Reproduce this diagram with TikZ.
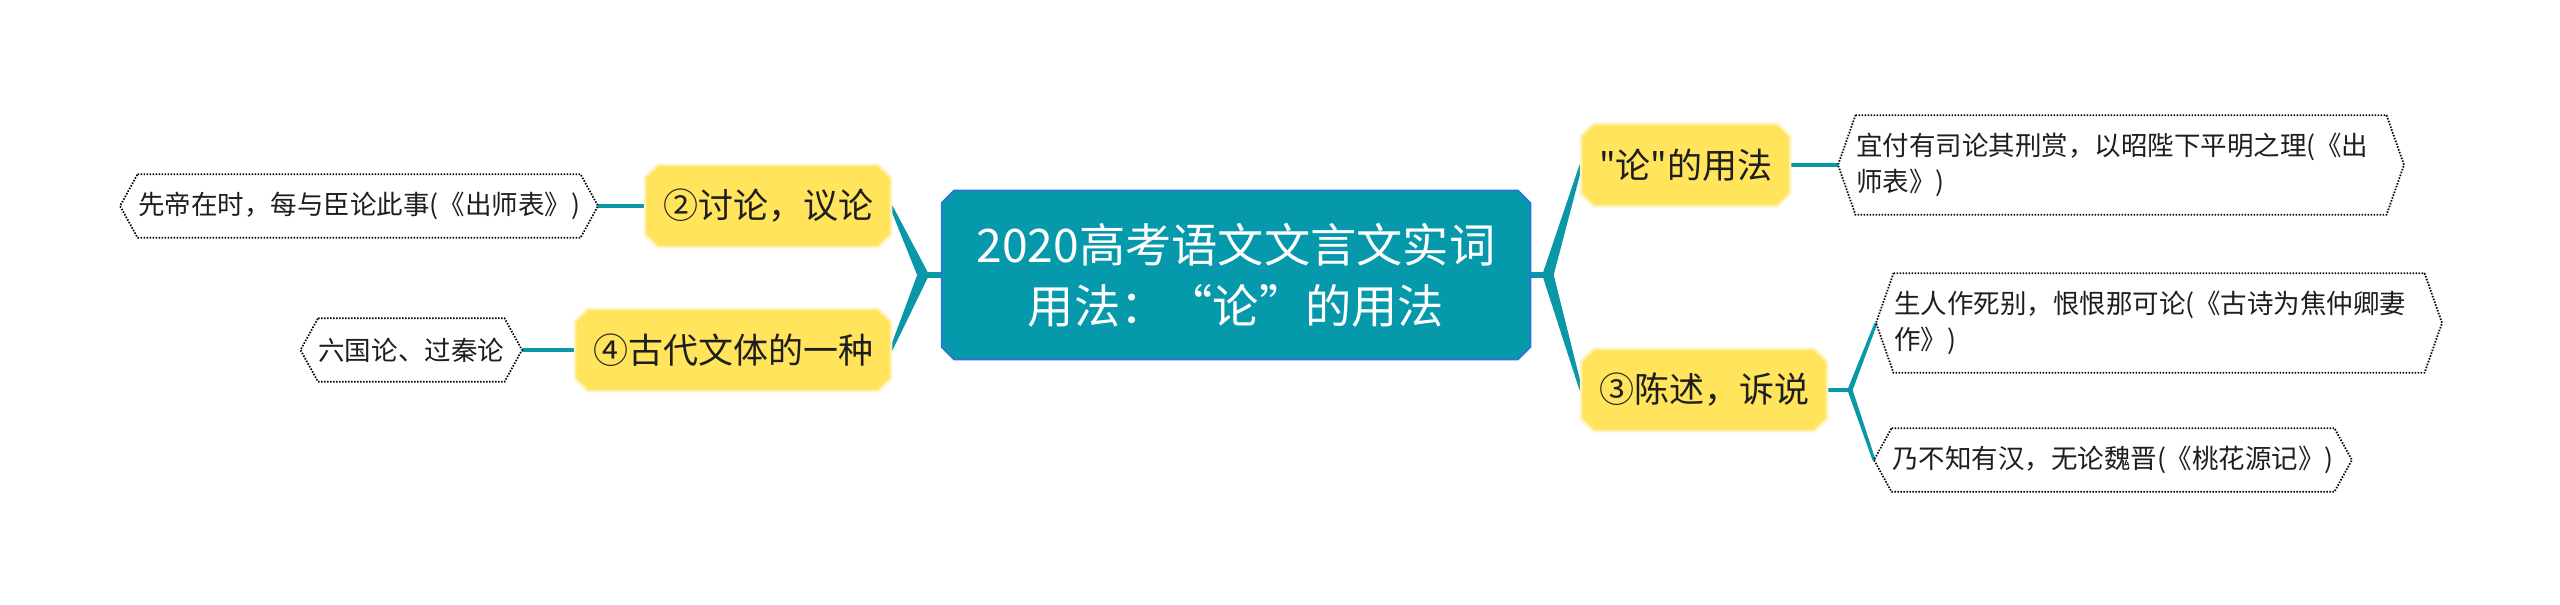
\documentclass[tikz,border=0pt]{standalone}
\usepackage{fontspec}
\setmainfont{Noto Sans CJK SC}[Ligatures=TeXOff]
\usetikzlibrary{calc,backgrounds}
\definecolor{teal1}{RGB}{10,152,168}
\definecolor{corefillc}{RGB}{5,153,171}
\definecolor{coreblue}{RGB}{45,110,225}
\definecolor{yel}{RGB}{255,228,92}
\definecolor{yelb}{RGB}{255,242,185}
\definecolor{ink}{RGB}{30,30,30}
\newcommand{\chamf}[3]{%
  \draw[#3] ([xshift=#2]#1.north west) -- ([xshift=-#2]#1.north east) -- ([yshift=-#2]#1.north east)
   -- ([yshift=#2]#1.south east) -- ([xshift=-#2]#1.south east) -- ([xshift=#2]#1.south west)
   -- ([yshift=#2]#1.south west) -- ([yshift=-#2]#1.north west) -- cycle;}
\newcommand{\hexa}[2]{%
  \draw[leafline] ([xshift=#2]#1.north west) -- ([xshift=-#2]#1.north east) -- (#1.east)
   -- ([xshift=-#2]#1.south east) -- ([xshift=#2]#1.south west) -- (#1.west) -- cycle;}
\newcommand{\taper}[4]{%
  \fill[teal1] ($(#1)!#3!90:(#2)$) -- ($(#2)!#4!-90:(#1)$) -- ($(#2)!#4!90:(#1)$) -- ($(#1)!#3!-90:(#2)$) -- cycle;}
\tikzset{
  core/.style={text=white, font=\fontsize{18.5}{24.4}\selectfont, align=center,
    minimum width=235.2pt, minimum height=67.2pt, inner sep=0pt},
  topic/.style={text=ink, font=\fontsize{14}{16}\selectfont, inner xsep=7pt, inner ysep=0pt,
    minimum height=32.5pt},
  leaf/.style={text=ink, font=\fontsize{10.6}{14.4}\selectfont, inner xsep=7pt, inner ysep=7pt,
    minimum height=25pt, align=left},
  leafline/.style={draw=black, dash pattern=on 0.6pt off 0.6pt, line width=0.7pt},
  corefill/.style={fill=corefillc, draw=coreblue, line width=0.6pt},
  topicfill/.style={fill=yel, draw=yelb, line width=1pt},
  stub/.style={draw=teal1, line width=2.6pt},
  link/.style={draw=teal1, line width=1.6pt},
}
\begin{document}
\begin{tikzpicture}[x=0.4pt,y=-0.4pt]
\useasboundingbox (0,0) rectangle (2560,605);
% nodes
\node[core] (core) at (1236,275) {2020高考语文文言文实词\\用法：“论”的用法};
\node[topic, anchor=east] (n2) at (891,206) {②讨论，议论};
\node[topic, anchor=east] (n4) at (891,350) {④古代文体的一种};
\node[topic, anchor=west] (nA) at (1581,165) {"论"的用法};
\node[topic, anchor=west] (n3) at (1581,390) {③陈述，诉说};
\node[leaf, anchor=east] (L1) at (598,206) {先帝在时，每与臣论此事(《出师表》)};
\node[leaf, anchor=east] (L2) at (522,350) {六国论、过秦论};
\node[leaf, anchor=west, text width=212pt] (R1) at (1838,165) {宜付有司论其刑赏，以昭陛下平明之理(《出\\师表》)};
\node[leaf, anchor=west, text width=212pt] (R2) at (1876,323) {生人作死别，恨恨那可论(《古诗为焦仲卿妻\\作》)};
\node[leaf, anchor=west] (R3) at (1874,460) {乃不知有汉，无论魏晋(《桃花源记》)};
\coordinate (lj) at (923,275);
\coordinate (rj) at (1548,275);
\coordinate (j3) at (1850,390);
\begin{scope}[on background layer]
  % connectors
  \draw[stub] (core.west) -- (lj);
  \draw[stub] (core.east) -- (rj);
  \taper{lj}{n2.east}{2.2pt}{0.6pt}
  \taper{lj}{n4.east}{2.2pt}{0.6pt}
  \taper{rj}{nA.west}{2.2pt}{0.6pt}
  \taper{rj}{n3.west}{2.2pt}{0.6pt}
  \draw[link] (L1.east) -- (n2.west);
  \draw[link] (L2.east) -- (n4.west);
  \draw[link] (nA.east) -- (R1.west);
  \draw[link] (n3.east) -- (j3);
  \taper{j3}{R2.west}{1pt}{0.6pt}
  \taper{j3}{R3.west}{1pt}{0.6pt}
  % shapes
  \chamf{core}{5pt}{corefill}
  \chamf{n2}{5pt}{topicfill}
  \chamf{n4}{5pt}{topicfill}
  \chamf{nA}{5pt}{topicfill}
  \chamf{n3}{5pt}{topicfill}
\end{scope}
\hexa{L1}{7pt}
\hexa{L2}{7pt}
\hexa{R1}{7pt}
\hexa{R2}{7pt}
\hexa{R3}{7pt}
\end{tikzpicture}
\end{document}
